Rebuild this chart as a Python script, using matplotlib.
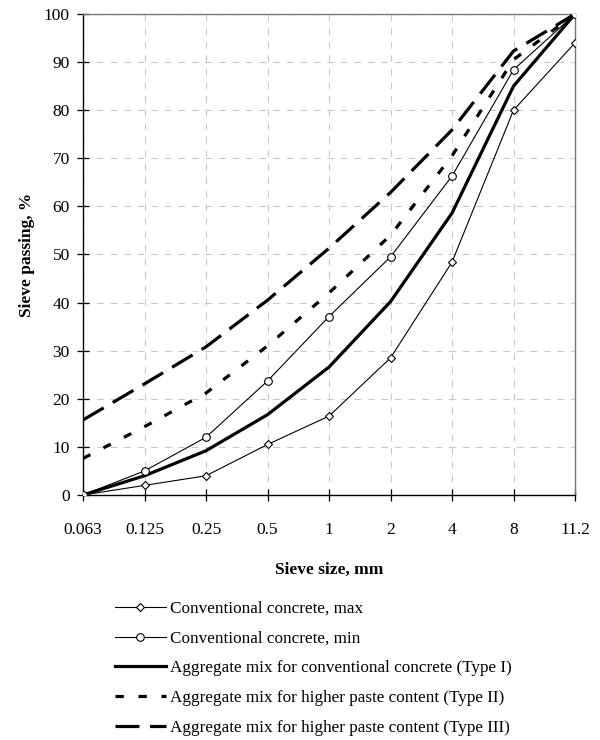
import numpy as np
import matplotlib
matplotlib.use('Agg')
import matplotlib.pyplot as plt

plt.rcParams['font.family'] = ['Liberation Serif', 'DejaVu Serif']

sizes = ['0.063', '0.125', '0.25', '0.5', '1', '2', '4', '8', '11.2']
conv_max = [0, 2, 4, 10.5, 16.4, 28.5, 48.4, 80, 94]
conv_min = [0, 5, 12, 23.7, 37.1, 49.5, 66.3, 88.4, 100]
type_1 = [0, 4, 9.2, 16.7, 26.6, 40.2, 58.6, 85, 100]
type_2 = [7.6, 14.2, 21.2, 31, 42, 54, 70.5, 90.5, 100]
type_3 = [15.6, 23.1, 30.8, 40.5, 51.3, 62.9, 75.9, 92.3, 100]

labels = ['Conventional concrete, max',
          'Conventional concrete, min',
          'Aggregate mix for conventional concrete (Type I)',
          'Aggregate mix for higher paste content (Type II)',
          'Aggregate mix for higher paste content (Type III)']

x = np.arange(len(sizes))

fig = plt.figure(figsize=(6, 7.4), dpi=100)
ax = fig.add_axes([83 / 600, 1 - 495 / 740, 492 / 600, 481 / 740])

l1, = ax.plot(x, conv_max, color='black', lw=0.8, marker='D', ms=4.5,
              mfc='white', mec='black', mew=0.8, zorder=5)
l2, = ax.plot(x, conv_min, color='black', lw=0.8, marker='o', ms=5.5,
              mfc='white', mec='black', mew=0.8, zorder=5)
l3, = ax.plot(x, type_1, color='black', lw=2.3, solid_joinstyle='round', zorder=4)
l4, = ax.plot(x, type_2, color='black', lw=2.3, dash_capstyle='butt',
              linestyle=(0, (2.6, 4.6)), zorder=4)
l5, = ax.plot(x, type_3, color='black', lw=2.3, dash_capstyle='butt',
              linestyle=(0, (7.5, 3.3)), zorder=4)

ax.set_xlim(0, len(sizes) - 1)
ax.set_ylim(0, 100)
ax.set_xticks(x)
ax.set_xticklabels(sizes)
ax.set_yticks(np.arange(0, 101, 10))

ax.grid(True, color='#c8c8c8', linestyle=(0, (6.5, 6.5)), lw=0.75)
ax.set_axisbelow(True)

ax.tick_params(direction='inout', length=9, width=0.9, labelsize=12.5, pad=5)
ax.tick_params(axis='x', pad=15)
for s in ['left', 'bottom']:
    ax.spines[s].set_linewidth(1.0)
    ax.spines[s].set_color('black')
for s in ['top', 'right']:
    ax.spines[s].set_linewidth(1.0)
    ax.spines[s].set_color('#777777')

ax.set_xlabel('Sieve size, mm', fontsize=12.5, fontweight='bold', labelpad=17)
ax.set_ylabel('Sieve passing, %', fontsize=12.5, fontweight='bold', labelpad=6)

fig.legend([l1, l2, l3, l4, l5], labels, loc='upper left',
           bbox_to_anchor=(108 / 600, 1 - 594 / 740), frameon=False,
           fontsize=12.3, handlelength=3.0, handletextpad=0.2,
           labelspacing=0.8, numpoints=1, borderaxespad=0)

fig.savefig('out.png', dpi=100)
